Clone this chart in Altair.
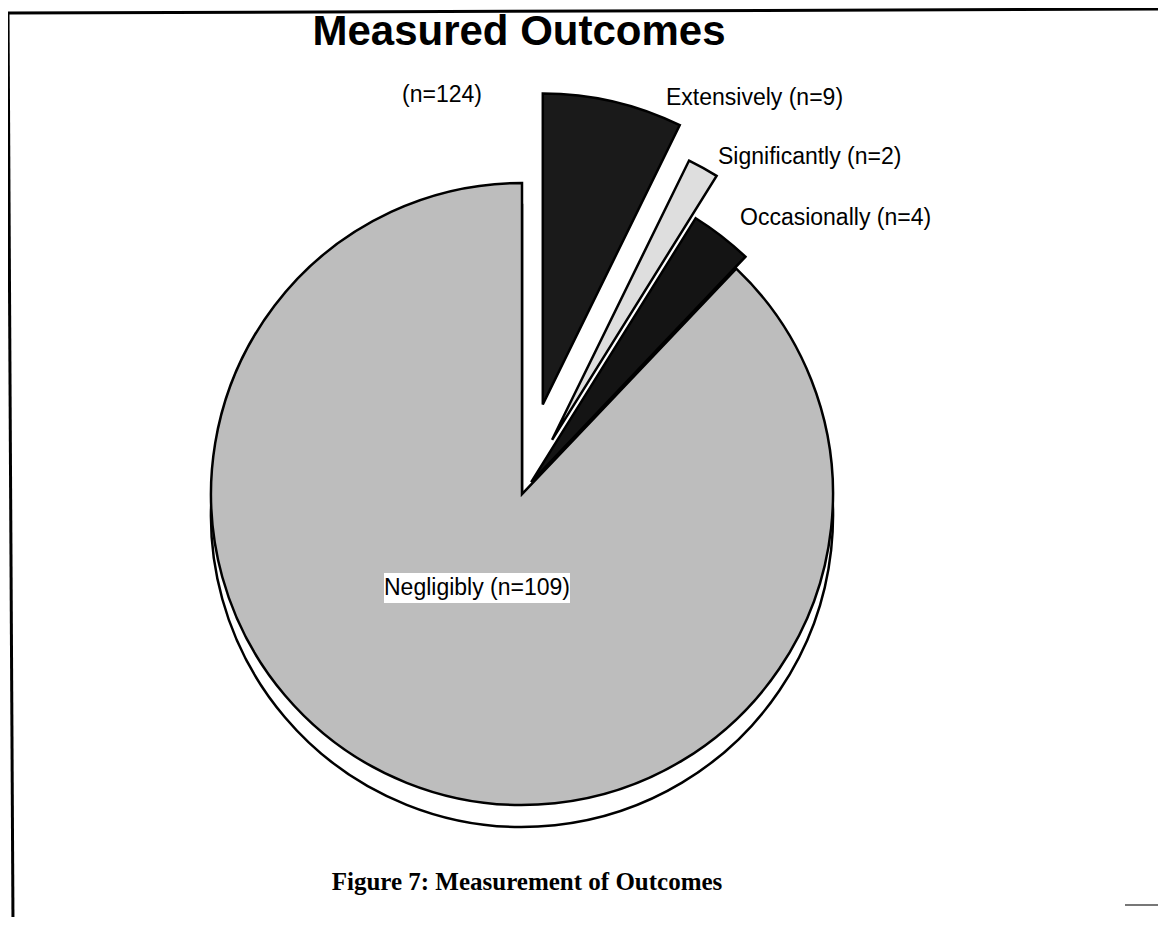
import altair as alt
import pandas as pd

# ---- data ----
categories = ["Extensively", "Significantly", "Occasionally", "Negligibly"]
counts = [9, 2, 4, 109]
title_text = "Measured Outcomes"
total_text = "(n=124)"
caption_text = "Figure 7: Measurement of Outcomes"

# ---- styles ----
fills = ["#1a1a1a", "#dedede", "#141414", "#bdbdbd"]
pull = [92, 62, 15, 0]                 # explode distance of each slice (px)
label_pos_x = [658, 710, 732, 469]     # plot coords (page - 8)
label_pos_y = [90, 149, 210, 580]

W, H = 1150, 909
CX, CY, R = 514, 486, 311
DEPTH = 22

df = pd.DataFrame({
    "category": categories,
    "n": counts,
    "order": list(range(len(categories))),
    "pull": pull,
    "lx": label_pos_x,
    "ly": label_pos_y,
})

base = (
    alt.Chart(df)
    .transform_window(cum="sum(n)", sort=[alt.SortField("order")], frame=[None, 0])
    .transform_joinaggregate(total="sum(n)")
    .transform_calculate(
        start="(datum.cum - datum.n) / datum.total * 2 * PI",
        end="datum.cum / datum.total * 2 * PI",
        label="datum.category + ' (n=' + datum.n + ')'",
    )
    .transform_calculate(mid="(datum.start + datum.end) / 2")
    .transform_calculate(
        cx=f"{CX} + datum.pull * sin(datum.mid)",
        cy=f"{CY} - datum.pull * cos(datum.mid)",
    )
)

color = alt.Color("category:N", scale=alt.Scale(domain=categories, range=fills), legend=None)

shadow = (
    base.transform_filter("datum.category == 'Negligibly'")
    .transform_calculate(cyd=f"datum.cy + {DEPTH}")
    .mark_arc(outerRadius=R, fill="white", stroke="black", strokeWidth=2.5)
    .encode(
        x=alt.X("cx:Q", scale=None, axis=None),
        y=alt.Y("cyd:Q", scale=None, axis=None),
        theta=alt.Theta("start:Q", scale=None, stack=None),
        theta2="end:Q",
    )
)

pie = base.mark_arc(outerRadius=R, stroke="black", strokeWidth=2.5).encode(
    x=alt.X("cx:Q", scale=None, axis=None),
    y=alt.Y("cy:Q", scale=None, axis=None),
    theta=alt.Theta("start:Q", scale=None, stack=None),
    theta2="end:Q",
    color=color,
)

out_labels = (
    base.transform_filter("datum.category != 'Negligibly'")
    .mark_text(align="left", baseline="middle", font="Liberation Sans", fontSize=23, color="black")
    .encode(
        x=alt.X("lx:Q", scale=None, axis=None),
        y=alt.Y("ly:Q", scale=None, axis=None),
        text="label:N",
    )
)

neg_box = (
    base.transform_filter("datum.category == 'Negligibly'")
    .transform_calculate(x1="datum.lx - 93", x2="datum.lx + 93", y1="datum.ly - 15", y2="datum.ly + 15")
    .mark_rect(fill="white")
    .encode(
        x=alt.X("x1:Q", scale=None, axis=None), x2="x2:Q",
        y=alt.Y("y1:Q", scale=None, axis=None), y2="y2:Q",
    )
)

neg_label = (
    base.transform_filter("datum.category == 'Negligibly'")
    .mark_text(align="center", baseline="middle", font="Liberation Sans", fontSize=23, color="black")
    .encode(
        x=alt.X("lx:Q", scale=None, axis=None),
        y=alt.Y("ly:Q", scale=None, axis=None),
        text="label:N",
    )
)

texts = pd.DataFrame({"t": [title_text, total_text, caption_text]})

title = alt.Chart(texts).transform_filter(alt.datum.t == title_text).mark_text(
    font="Liberation Sans", fontWeight="bold", fontSize=42, align="center", baseline="alphabetic", color="black"
).encode(text="t:N", x=alt.value(511), y=alt.value(37))

total = alt.Chart(texts).transform_filter(alt.datum.t == total_text).mark_text(
    font="Liberation Sans", fontSize=23, align="center", baseline="middle", color="black"
).encode(text="t:N", x=alt.value(434), y=alt.value(87))

caption = alt.Chart(texts).transform_filter(alt.datum.t == caption_text).mark_text(
    font="Liberation Serif", fontWeight="bold", fontSize=25, align="center", baseline="alphabetic", color="black"
).encode(text="t:N", x=alt.value(519), y=alt.value(882))

frame_top = alt.Chart(texts).transform_filter(alt.datum.t == title_text).mark_rule(
    color="black", strokeWidth=3
).encode(x=alt.value(0), x2=alt.value(W + 8), y=alt.value(5), y2=alt.value(1))

frame_left = alt.Chart(texts).transform_filter(alt.datum.t == title_text).mark_rule(
    color="black", strokeWidth=3
).encode(x=alt.value(0), x2=alt.value(5), y=alt.value(5), y2=alt.value(H + 8))

frame_br = alt.Chart(texts).transform_filter(alt.datum.t == title_text).mark_rule(
    color="#777777", strokeWidth=2
).encode(x=alt.value(1117), x2=alt.value(W + 8), y=alt.value(897), y2=alt.value(897))

chart = (
    alt.layer(frame_top, frame_left, frame_br, shadow, pie, neg_box, neg_label, out_labels, title, total, caption)
    .properties(width=W, height=H, padding=0, autosize=alt.AutoSizeParams(type="none"))
    .configure_view(stroke=None)
)

chart.save("out.html", embed_options={"renderer": "svg", "actions": False})
